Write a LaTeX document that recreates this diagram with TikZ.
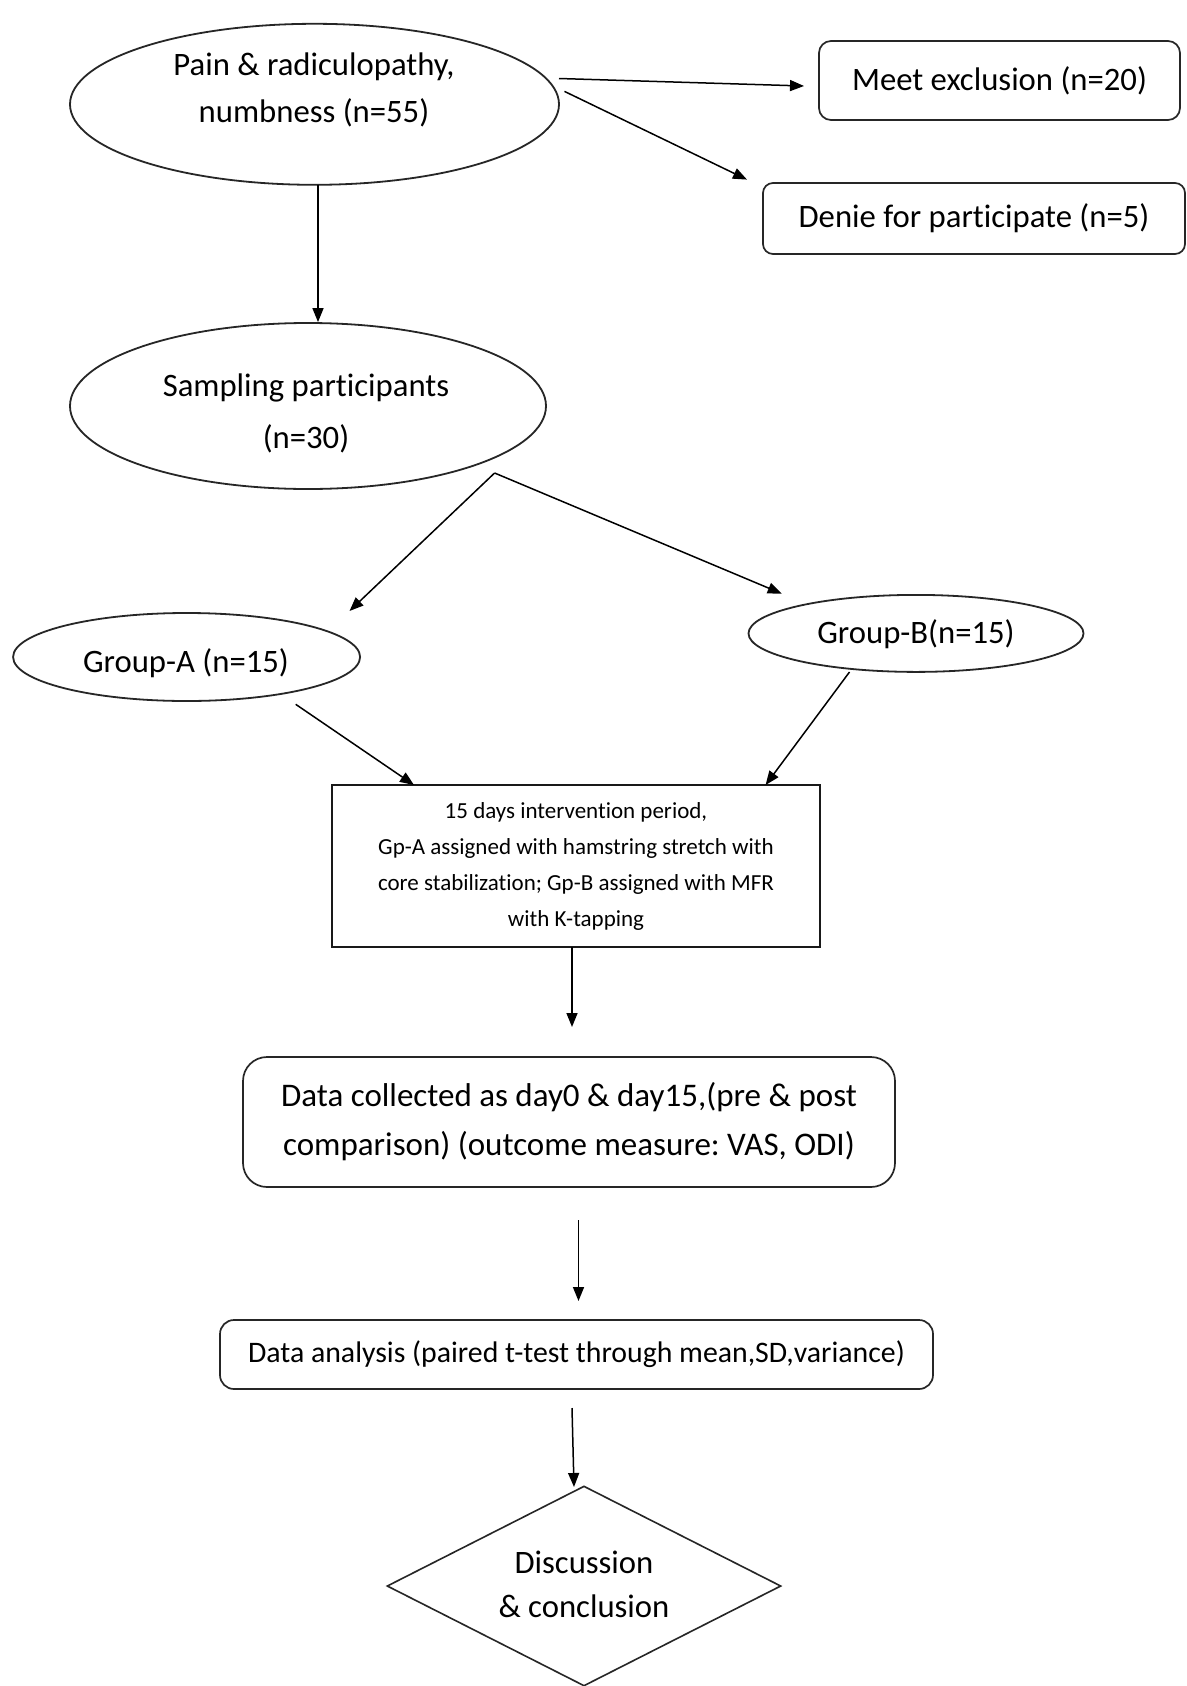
\documentclass[tikz,border=0pt]{standalone}
\usepackage{fontspec}
\setmainfont{Carlito}[RawFeature={-liga;-clig;-calt;-dlig}]
\usetikzlibrary{shapes.geometric,arrows.meta}
\frenchspacing
\begin{document}
\begin{tikzpicture}[x=1pt,y=-1pt,
  big/.style={font=\fontsize{32.7}{47}\selectfont},
  oval/.style={draw=black!85,line width=1.8pt,ellipse,inner sep=0pt},
  rbox/.style={draw=black!85,line width=1.7pt,rounded corners=12pt,inner sep=0pt},
  arr/.style={line width=1.5pt,-{Triangle[length=14pt,width=11pt]}},
  txt/.style={align=center,inner sep=0pt,big}]
\useasboundingbox (0,0) rectangle (1186,1686);
\fill[white] (0,0) rectangle (1186,1686);

% ovals
\node[oval,minimum width=489pt,minimum height=161pt] (pain) at (314.5,104.3) {};
\node[txt] (paint) at (314,90) {Pain \& radiculopathy,\\numbness (n=55)};
\node[oval,minimum width=476pt,minimum height=166pt] (samp) at (308,406) {};
\node[txt,font=\fontsize{32.7}{52}\selectfont] (sampt) at (306,413) {Sampling participants\\(n=30)};
\node[oval,minimum width=347pt,minimum height=88pt] (ga) at (186.6,657) {};
\node[txt] (gat) at (186,663) {Group-A (n=15)};
\node[oval,minimum width=335pt,minimum height=77pt] (gb) at (916,633.4) {};
\node[txt] (gbt) at (916,634) {Group-B(n=15)};

% boxes
\node[rbox,minimum width=361pt,minimum height=79pt,big] (meet) at (999.5,80.5) {Meet exclusion (n=20)};
\node[rbox,rounded corners=10pt,minimum width=422pt,minimum height=71pt,big] (denie) at (974,218.5) {Denie for participate (n=5)};
\node[draw=black!90,line width=1.7pt,minimum width=488pt,minimum height=162pt,align=center,inner sep=0pt,font=\fontsize{23}{36}\selectfont] (inter) at (576,866)
  {15 days intervention period,\\Gp-A assigned with hamstring stretch with\\core stabilization; Gp-B assigned with MFR\\with K-tapping};
\node[rbox,rounded corners=24pt,minimum width=652pt,minimum height=130pt,align=center,font=\fontsize{33}{49}\selectfont] (data) at (569,1122)
  {Data collected as day0 \& day15,(pre \& post\\comparison) (outcome measure: VAS, ODI)};
\node[rbox,rounded corners=14pt,minimum width=713pt,minimum height=69pt,font=\fontsize{29.8}{36}\selectfont] (anal) at (576.5,1354.5)
  {Data analysis (paired t-test through mean,SD,variance)};
\node[draw=black!85,line width=1.6pt,diamond,inner sep=0pt,minimum width=394pt,minimum height=200pt] (disc) at (584,1586) {};
\node[txt,font=\fontsize{32.7}{44}\selectfont] (disct) at (584,1584) {Discussion\\\& conclusion};

% connector end points
\coordinate (p1) at (559,78.5);
\coordinate (m1) at (804,86);
\coordinate (p2) at (564.5,91.4);
\coordinate (d1) at (747,179.6);
\coordinate (p3) at (318,185);
\coordinate (apex) at (494.6,473);
\coordinate (a1) at (349.5,611);
\coordinate (b1) at (781.7,593.6);
\coordinate (a2) at (295.7,704.3);
\coordinate (i1) at (414,785);
\coordinate (b2) at (849.5,672);
\coordinate (i2) at (765.6,785);
\coordinate (i3) at (572,947);
\coordinate (c1) at (572,1027);
\coordinate (c2) at (578.5,1220);
\coordinate (n1) at (578.5,1301);
\coordinate (n2) at (572,1408);
\coordinate (e1) at (574,1487);

\draw[arr] (p1) -- (m1);
\draw[arr] (p2) -- (d1);
\draw[arr] (p3) -- (samp.north -| p3);
\draw[arr] (apex) -- (a1);
\draw[arr] (apex) -- (b1);
\draw[arr] (a2) -- (i1);
\draw[arr] (b2) -- (i2);
\draw[arr] (i3) -- (c1);
\draw[arr] (c2) -- (n1);
\draw[arr] (n2) -- (e1);
\end{tikzpicture}
\end{document}
